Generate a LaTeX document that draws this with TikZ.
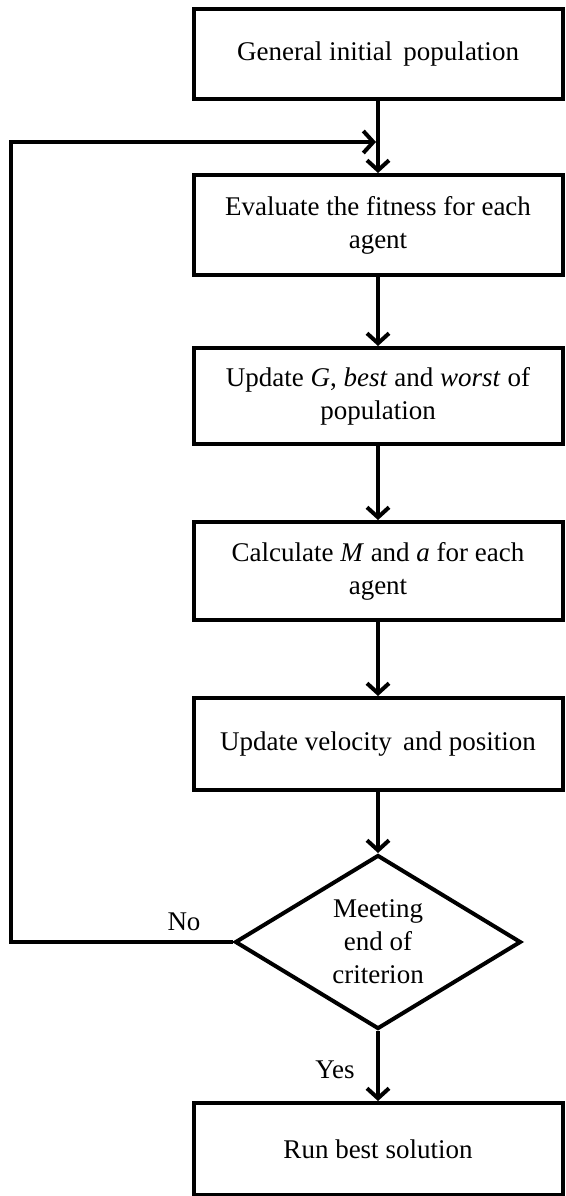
\documentclass[tikz,border=0pt]{standalone}
\usepackage{fontspec}
\setmainfont{Liberation Serif}
\usetikzlibrary{shapes.geometric, arrows.meta, calc}

\begin{document}
\begin{tikzpicture}[x=1pt, y=-1pt,
	process/.style={draw, line width=4pt, rectangle, minimum width=369pt, align=center, inner sep=0pt},
	decision/.style={draw, line width=4pt, diamond, aspect=1.64, align=center, inner sep=0pt, minimum width=286pt, minimum height=174pt},
	flow/.style={line width=4pt, -{Straight Barb[length=10pt, width=22pt, line width=4pt]}},
	every node/.style={font=\fontsize{27}{33}\selectfont}]
	\useasboundingbox (0, 0) rectangle (565, 1196);
	
	\node[process, minimum height=90pt] (init) at (378, 54) {General initial\, population};
	\node[process, minimum height=100pt] (fitness) at (378, 225) {Evaluate the fitness for each\\agent};
	\node[process, minimum height=96pt] (update) at (378, 396) {Update \textit{G}, \textit{best} and \textit{worst} of\\population};
	\node[process, minimum height=98pt] (calc) at (378, 571) {Calculate \textit{M} and \textit{a} for each\\agent};
	\node[process, minimum height=92pt] (velocity) at (378, 744) {Update velocity\, and position};
	\node[decision] (stop) at (378, 942) {Meeting\\end of\\criterion};
	\node[process, minimum height=92pt] (run) at (378, 1149) {Run best solution};
	
	\coordinate (loopbottom) at (11, 942);
	\coordinate (looptop) at (11, 142);
	\coordinate (loopend) at (376, 142);
	
	\draw[flow] (init) -- (fitness);
	\draw[flow] (fitness) -- (update);
	\draw[flow] (update) -- (calc);
	\draw[flow] (calc) -- (velocity);
	\draw[flow] (velocity) -- (stop);
	\draw[flow] (stop) -- (run);
	\draw[flow, line join=miter] (stop.west) -- (loopbottom) -- (looptop) -- (loopend);
	
	\node (nolabel) at (184, 922) {No};
	\node (yeslabel) at (335, 1070) {Yes};
\end{tikzpicture}
\end{document}
